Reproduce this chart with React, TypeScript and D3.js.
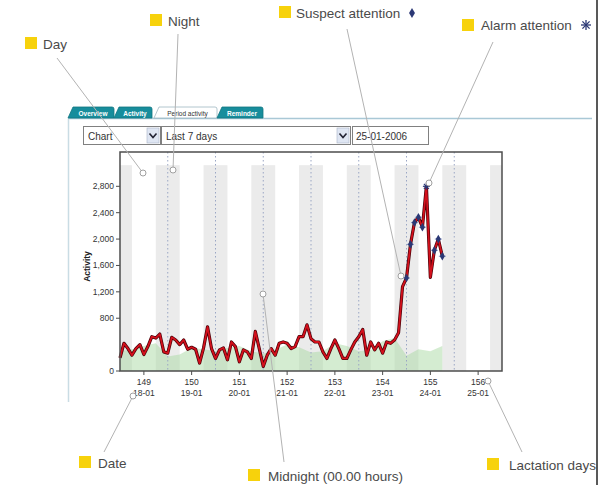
import React from "react";
import * as d3 from "d3";

// ---------- data ----------
const lactationDays = [149, 150, 151, 152, 153, 154, 155, 156];
const dateLabels = ["18-01", "19-01", "20-01", "21-01", "22-01", "23-01", "24-01", "25-01"];
// activity every 2 hours starting 18-01 00:00
const activity = [
  200, 420, 340, 240, 340, 400, 250, 370, 520, 500, 560, 290, 270, 510, 470, 400, 470, 330, 360, 330, 120, 350,
  670, 340, 190, 320, 350, 170, 440, 370, 140, 320, 290, 190, 600, 340, 70, 240, 340, 240, 420, 440,
  420, 340, 370, 520, 520, 700, 490, 440, 440, 290, 190, 340, 470, 340, 190, 190, 320, 440, 520, 630, 240, 440,
  320, 420, 270, 440, 420, 470, 580, 1280, 1410,
  1920, 2250, 2330, 2180, 2800, 1420, 1830, 2000, 1740,
];
const activityStepHours = 2;
// reference (green) activity every 6 hours
const baseline = [
  300, 330, 380, 420, 220, 250, 350, 330, 300, 350, 380, 300, 260, 320, 400, 360, 280, 300, 420, 380, 300, 320,
  450, 500, 230, 330, 300, 380,
];
const baselineStepHours = 6;
const yTicks = [0, 800, 1200, 1600, 2000, 2400, 2800];
const suspectIdx = [72, 73, 74, 75, 76, 79, 80, 81];
const alarmIdx = [77];
const nightStartHour = 18;
const nightEndHour = 6;
const bandTopValue = 3120;

// ---------- layout ----------
const W = 605;
const H = 485;
const plot = { left: 120, right: 502, top: 152, bottom: 371 };
const FONT = "'Liberation Sans', Arial, sans-serif";

const callouts = [
  { label: "Day", sq: [25, 37], tx: 43, ty: 49, line: [[57, 58], [143, 173]] },
  { label: "Night", sq: [150, 14], tx: 168, ty: 26, line: [[178, 34], [173, 170]] },
  { label: "Suspect attention", sq: [279, 6], tx: 296, ty: 18, line: [[347, 29], [401, 276]] },
  { label: "Alarm attention", sq: [462, 19], tx: 481, ty: 30, line: [[493, 42], [429, 183]] },
  { label: "Date", sq: [79, 456], tx: 98, ty: 468, line: [[104, 452], [133, 396]] },
  { label: "Midnight (00.00 hours)", sq: [248, 469], tx: 268, ty: 481, line: [[284, 462], [263, 294]] },
  { label: "Lactation days", sq: [487, 458], tx: 509, ty: 470, line: [[522, 452], [488, 381]] },
];

const tabs = [
  { label: "Overview", x0: 68, x1: 114, sel: false },
  { label: "Activity", x0: 114, x1: 152, sel: false },
  { label: "Period activity", x0: 154, x1: 217, sel: true },
  { label: "Reminder", x0: 217, x1: 263, sel: false },
];

export default function App() {
  const totalHours = lactationDays.length * 24;
  const x = d3.scaleLinear().domain([0, totalHours]).range([plot.left, plot.right]);
  const y = d3.scaleLinear().domain([0, 3320]).range([plot.bottom, plot.top]);

  const nights: [number, number][] = [];
  for (let d = 0; d <= lactationDays.length; d++) {
    const s = Math.max(0, d * 24 - (24 - nightStartHour));
    const e = Math.min(totalHours, d * 24 + nightEndHour);
    if (e > s) nights.push([s, e]);
  }
  const midnights = d3.range(1, lactationDays.length).map((d) => d * 24);

  const line = d3
    .line<number>()
    .x((_, i) => x(i * activityStepHours))
    .y((v) => y(v));
  const area = d3
    .area<number>()
    .x((_, i) => x(i * baselineStepHours))
    .y0(y(0))
    .y1((v) => y(v));
  const fmt = d3.format(",");

  const diamond = d3.symbol().type(d3.symbolDiamond).size(22)();

  return (
    <svg width={W} height={H} style={{ position: "absolute", left: 0, top: 0, background: "#fff" }} fontFamily={FONT}>
      <rect width={W} height={H} fill="#fff" />
      {/* panel */}
      <line x1={68} x2={592} y1={118.5} y2={118.5} stroke="#a9c8d6" strokeWidth={1.5} />
      <line x1={68.5} x2={68.5} y1={118} y2={402} stroke="#c9dce4" strokeWidth={1.5} />
      {tabs.map((t) => (
        <g key={t.label}>
          <path
            d={`M${t.x0},118 L${t.x0 + 5},107 L${t.x1 - 2},107 Q${t.x1},107 ${t.x1},109 L${t.x1},118 Z`}
            fill={t.sel ? "#fff" : "#178d9c"}
            stroke={t.sel ? "#9fb8c2" : "#117682"}
            strokeWidth={0.8}
          />
          <text
            x={(t.x0 + t.x1) / 2 + 2}
            y={115.5}
            fontSize={6.5}
            fontWeight={t.sel ? "normal" : "bold"}
            textAnchor="middle"
            fill={t.sel ? "#333" : "#fff"}
          >
            {t.label}
          </text>
        </g>
      ))}
      {/* controls */}
      <rect x={83.5} y={126.5} width={77} height={18} fill="#fff" stroke="#808080" />
      <rect x={147} y={128} width={12} height={15} fill="#dfe6f3" stroke="#aab4c8" strokeWidth={0.6} />
      <path d="M149.5,133.5 L153,137.5 L156.5,133.5" fill="none" stroke="#223" strokeWidth={1.6} />
      <text x={88} y={139.5} fontSize={10} fill="#333">Chart</text>
      <rect x={161.5} y={126.5} width={189} height={18} fill="#fff" stroke="#808080" />
      <rect x={337} y={128} width={12} height={15} fill="#dfe6f3" stroke="#aab4c8" strokeWidth={0.6} />
      <path d="M339.5,133.5 L343,137.5 L346.5,133.5" fill="none" stroke="#223" strokeWidth={1.6} />
      <text x={166} y={139.5} fontSize={10} fill="#333">Last 7 days</text>
      <rect x={352.5} y={126.5} width={76} height={18} fill="#fff" stroke="#808080" />
      <text x={356} y={139.5} fontSize={10} fill="#333">25-01-2006</text>

      {/* night bands */}
      {nights.map(([s, e], i) => (
        <rect key={i} x={x(s)} y={y(bandTopValue)} width={x(e) - x(s)} height={y(0) - y(bandTopValue)} fill="#ebebeb" />
      ))}
      {/* baseline area */}
      <path d={area(baseline) || ""} fill="#a9d9a4" opacity={0.5} />
      {/* midnight lines */}
      {midnights.map((h) => (
        <line key={h} x1={x(h)} x2={x(h)} y1={plot.top} y2={plot.bottom} stroke="#9aa6c4" strokeWidth={1} strokeDasharray="1.5,2.5" />
      ))}
      {/* activity line */}
      <path d={line(activity) || ""} fill="none" stroke="#4a0008" strokeWidth={3.2} strokeLinejoin="round" />
      <path d={line(activity) || ""} fill="none" stroke="#d4101c" strokeWidth={1.8} strokeLinejoin="round" />
      {suspectIdx.map((i) => (
        <g key={i} transform={`translate(${x(i * activityStepHours)},${y(activity[i])})`}>
          <line x1={-3.5} x2={3.5} y1={0} y2={0} stroke="#8090c0" strokeWidth={1} />
          <path d={diamond || ""} fill="#2b3875" />
        </g>
      ))}
      {alarmIdx.map((i) => (
        <g key={i} transform={`translate(${x(i * activityStepHours)},${y(activity[i])})`} stroke="#2b3875" strokeWidth={1.2}>
          <line x1={-3.5} x2={3.5} y1={0} y2={0} />
          <line x1={0} x2={0} y1={-3.5} y2={3.5} />
          <line x1={-2.5} x2={2.5} y1={-2.5} y2={2.5} />
          <line x1={-2.5} x2={2.5} y1={2.5} y2={-2.5} />
        </g>
      ))}
      {/* frame */}
      <rect x={plot.left} y={plot.top} width={plot.right - plot.left} height={plot.bottom - plot.top} fill="none" stroke="#4d4d4d" strokeWidth={1.5} />
      {/* y axis */}
      {yTicks.map((t) => (
        <g key={t}>
          <line x1={plot.left - 4} x2={plot.left} y1={y(t)} y2={y(t)} stroke="#4d4d4d" />
          <text x={plot.left - 6} y={y(t) + 3} fontSize={8.5} textAnchor="end" fill="#333">
            {fmt(t)}
          </text>
        </g>
      ))}
      <text transform={`translate(90,${(plot.top + plot.bottom) / 2 + 5}) rotate(-90)`} fontSize={8.5} fontWeight="bold" textAnchor="middle" fill="#222">
        Activity
      </text>
      {/* x axis */}
      {lactationDays.map((d, i) => {
        const cx = x(i * 24 + 12);
        return (
          <g key={d}>
            <line x1={cx} x2={cx} y1={plot.bottom} y2={plot.bottom + 4} stroke="#4d4d4d" />
            <text x={cx} y={385} fontSize={8.5} textAnchor="middle" fill="#333">{d}</text>
            <text x={cx} y={396} fontSize={8.5} textAnchor="middle" fill="#333">{dateLabels[i]}</text>
          </g>
        );
      })}

      {/* callouts */}
      {callouts.map((c) => (
        <g key={c.label}>
          <line x1={c.line[0][0]} y1={c.line[0][1]} x2={c.line[1][0]} y2={c.line[1][1]} stroke="#b3b3b3" strokeWidth={1} />
          <circle cx={c.line[1][0]} cy={c.line[1][1]} r={3} fill="#fff" stroke="#a0a0a0" strokeWidth={1} />
          <rect x={c.sq[0]} y={c.sq[1]} width={12} height={12} fill="#f7d20c" />
          <text x={c.tx} y={c.ty} fontSize={13.5} fill="#4a4a4a">
            {c.label}
          </text>
        </g>
      ))}
      {/* legend symbols */}
      <path d={d3.symbol().type(d3.symbolDiamond).size(30)() || ""} transform="translate(412,13)" fill="#2b3875" />
      <g transform="translate(586,25)" stroke="#2b3875" strokeWidth={1.3}>
        <line x1={-5} x2={5} y1={0} y2={0} />
        <line x1={0} x2={0} y1={-5} y2={5} />
        <line x1={-3.6} x2={3.6} y1={-3.6} y2={3.6} />
        <line x1={-3.6} x2={3.6} y1={3.6} y2={-3.6} />
      </g>
      <line x1={597} x2={597} y1={0} y2={H} stroke="#222" strokeWidth={1.5} />
    </svg>
  );
}
